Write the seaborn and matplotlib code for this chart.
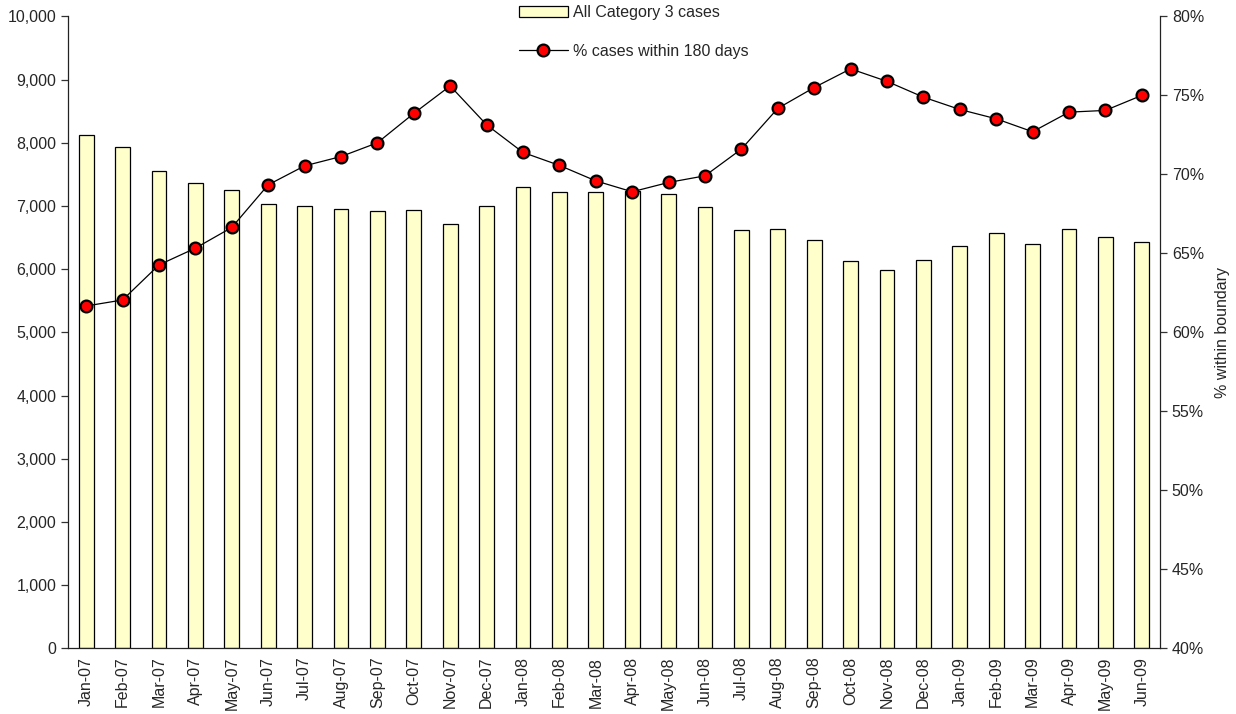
import matplotlib
matplotlib.use("Agg")
import matplotlib.pyplot as plt
import matplotlib.ticker as mticker
from matplotlib.patches import Patch
from matplotlib.lines import Line2D
import seaborn as sns
import pandas as pd
import numpy as np

months = ["Jan-07", "Feb-07", "Mar-07", "Apr-07", "May-07", "Jun-07", "Jul-07", "Aug-07",
          "Sep-07", "Oct-07", "Nov-07", "Dec-07", "Jan-08", "Feb-08", "Mar-08", "Apr-08",
          "May-08", "Jun-08", "Jul-08", "Aug-08", "Sep-08", "Oct-08", "Nov-08", "Dec-08",
          "Jan-09", "Feb-09", "Mar-09", "Apr-09", "May-09", "Jun-09"]
cases = [8127, 7937, 7547, 7362, 7252, 7035, 6998, 6946, 6924, 6930, 6709, 7003,
         7304, 7215, 7215, 7230, 7184, 6978, 6614, 6630, 6468, 6123, 5986, 6149,
         6361, 6571, 6397, 6630, 6503, 6424]
pct = [61.67, 62.05, 64.27, 65.33, 66.64, 69.34, 70.54, 71.13, 72.0, 73.86, 75.6, 73.14,
       71.39, 70.57, 69.59, 68.9, 69.49, 69.91, 71.6, 74.18, 75.5, 76.68, 75.89, 74.89,
       74.11, 73.52, 72.7, 73.94, 74.05, 75.0]

bar_label = "All Category 3 cases"
line_label = "% cases within 180 days"
right_ylabel = "% within boundary"

sns.set_style("white")
plt.rcParams["font.family"] = ["Liberation Sans", "DejaVu Sans"]
FS = 11.5

df = pd.DataFrame({"month": months, "cases": cases, "pct": pct})

fig = plt.figure(figsize=(12.36, 7.14), dpi=100)
ax = fig.add_axes([0.055, 0.092, 0.8835, 0.885])

sns.barplot(data=df, x="month", y="cases", ax=ax, color="#FFFFCC", saturation=1,
            width=0.41, edgecolor="black", linewidth=0.9)

ax2 = ax.twinx()
sns.pointplot(data=df, x="month", y="pct", ax=ax2, color="black", markers="o",
              linewidth=0.9, markersize=8.5, markerfacecolor="red",
              markeredgecolor="black", markeredgewidth=1.6)

n = len(months)
ax.set_xlim(-0.5, n - 0.5)
ax.set_ylim(0, 10000)
ax.yaxis.set_major_locator(mticker.MultipleLocator(1000))
ax.yaxis.set_major_formatter(mticker.FuncFormatter(lambda v, p: f"{int(v):,}"))
ax2.set_ylim(40, 80)
ax2.yaxis.set_major_locator(mticker.MultipleLocator(5))
ax2.yaxis.set_major_formatter(mticker.FuncFormatter(lambda v, p: f"{int(round(v))}%"))

ax.set_xticks(range(n))
ax.set_xticklabels(months, rotation=90, fontsize=FS)
ax.set_xticks(np.arange(-0.5, n, 1.0), minor=True)
ax.tick_params(axis="x", which="major", length=0, pad=6)
ax.tick_params(axis="x", which="minor", length=5, width=0.9, direction="out", color="#333333")
ax.tick_params(axis="y", length=5, width=0.9, direction="out", labelsize=FS, left=True, color="#333333")
ax2.tick_params(axis="y", length=5, width=0.9, direction="out", labelsize=FS, right=True, color="#333333")

ax.set_xlabel("")
ax.set_ylabel("")
ax2.set_xlabel("")
ax2.set_ylabel(right_ylabel, fontsize=FS, labelpad=8)

for a in (ax, ax2):
    a.spines["top"].set_visible(False)
    for s in ("left", "right", "bottom"):
        a.spines[s].set_color("#222222")
        a.spines[s].set_linewidth(0.9)
ax.spines["right"].set_visible(False)
ax2.spines["left"].set_visible(False)
ax2.spines["bottom"].set_visible(False)

handles = [Patch(facecolor="#FFFFCC", edgecolor="black", linewidth=0.9, label=bar_label),
           Line2D([0], [0], color="black", linewidth=0.9, marker="o", markersize=8.5,
                  markerfacecolor="red", markeredgecolor="black", markeredgewidth=1.6,
                  label=line_label)]
fig.legend(handles=handles, loc="upper left", bbox_to_anchor=(0.408, 1.013), frameon=False,
           fontsize=FS, labelspacing=1.5, handlelength=3.1, handleheight=0.75, handletextpad=0.3)

fig.savefig("out.png", dpi=100)
